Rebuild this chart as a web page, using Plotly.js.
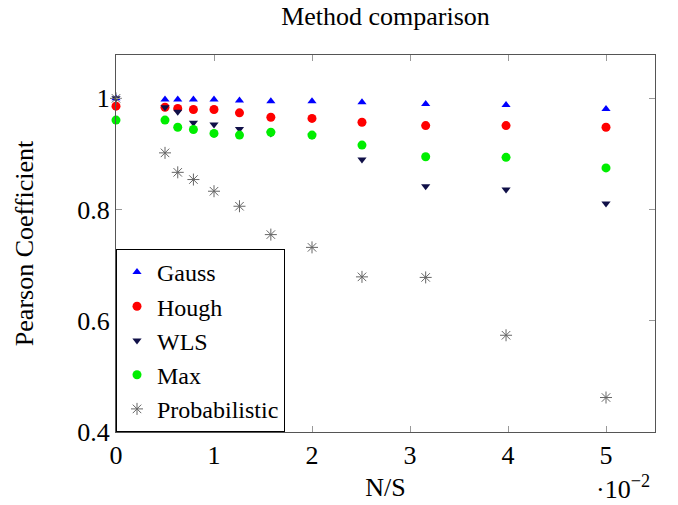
<!DOCTYPE html>
<html>
<head>
<meta charset="utf-8">
<script src="https://cdn.plot.ly/plotly-3.0.1.min.js"></script>
<style>html,body{margin:0;padding:0;background:#fff;}#chart{width:678px;height:505px;}</style>
</head>
<body>
<div id="chart"></div>
<script>
// N/S values (actual), displayed with ·10^-2 factor
const noiseRatio = [0, 0.005, 0.0063, 0.0079, 0.01, 0.0126, 0.0158, 0.02, 0.0251, 0.0316, 0.0398, 0.05];
const gauss = [1.0, 0.998, 0.998, 0.998, 0.998, 0.996, 0.995, 0.995, 0.993, 0.990, 0.988, 0.981];
const hough = [0.986, 0.984, 0.982, 0.980, 0.980, 0.974, 0.966, 0.964, 0.957, 0.951, 0.951, 0.948];
const wls = [1.0, 0.984, 0.976, 0.956, 0.953, 0.945, 0.937, 0.933, 0.890, 0.842, 0.836, 0.811];
const maxv = [0.961, 0.961, 0.948, 0.944, 0.937, 0.934, 0.939, 0.934, 0.916, 0.895, 0.894, 0.875];
const prob = [1.0, 0.902, 0.867, 0.854, 0.833, 0.806, 0.755, 0.732, 0.679, 0.678, 0.574, 0.462];
const xTickVals = [0, 0.01, 0.02, 0.03, 0.04, 0.05];
const xTickText = ['0', '1', '2', '3', '4', '5'];
const yTickVals = [0.4, 0.6, 0.8, 1];
const yTickText = ['0.4', '0.6', '0.8', '1'];

const font = "'Liberation Serif', 'Times New Roman', serif";

const traces = [
  {name: 'Gauss', y: gauss, marker: {symbol: 'triangle-up', color: '#0000ff', size: 8}},
  {name: 'Hough', y: hough, marker: {symbol: 'circle', color: '#ff0000', size: 9}},
  {name: 'WLS', y: wls, marker: {symbol: 'triangle-down', color: '#101048', size: 8}},
  {name: 'Max', y: maxv, marker: {symbol: 'circle', color: '#00ee00', size: 9}},
  {name: 'Probabilistic', y: prob, marker: {symbol: 'asterisk-open', color: '#666666', size: 10, line: {color: '#666666', width: 1}}}
].map(t => Object.assign({x: noiseRatio, type: 'scatter', mode: 'markers', cliponaxis: false}, t));

const layout = {
  width: 678, height: 505,
  margin: {l: 116, r: 23, t: 55, b: 73},
  paper_bgcolor: '#fff', plot_bgcolor: '#fff',
  font: {family: font, size: 26, color: '#000'},
  title: {text: 'Method comparison', font: {family: font, size: 26}, x: 0.5, xref: 'paper', xanchor: 'center', y: 0.969, yanchor: 'middle'},
  xaxis: {
    range: [0, 0.055], tickvals: xTickVals, ticktext: xTickText,
    ticks: 'inside', ticklen: 6, tickcolor: '#999', mirror: 'ticks',
    showline: true, linecolor: '#555', linewidth: 1, showgrid: false, zeroline: false,
    tickfont: {family: font, size: 26},
    title: {text: 'N/S', font: {family: font, size: 26}, standoff: 8}
  },
  yaxis: {
    range: [0.4, 1.078], tickvals: yTickVals, ticktext: yTickText,
    ticks: 'inside', ticklen: 6, tickcolor: '#999', mirror: 'ticks',
    showline: true, linecolor: '#555', linewidth: 1, showgrid: false, zeroline: false,
    tickfont: {family: font, size: 26},
    title: {text: 'Pearson Coefficient', font: {family: font, size: 26}, standoff: 36}
  },
  legend: {
    x: 0, y: 0, xanchor: 'left', yanchor: 'bottom',
    bgcolor: '#fff', bordercolor: '#000', borderwidth: 1,
    font: {family: font, size: 24}, itemwidth: 30, tracegroupgap: 0
  },
  showlegend: true,
  annotations: [{
    xref: 'paper', yref: 'paper', x: 1, y: 0, xanchor: 'right', yanchor: 'middle', yshift: -55, xshift: -3,
    text: '·10<sup>−2</sup>', showarrow: false, font: {family: font, size: 26}
  }]
};

Plotly.newPlot('chart', traces, layout, {displayModeBar: false, staticPlot: true});
</script>
</body>
</html>
